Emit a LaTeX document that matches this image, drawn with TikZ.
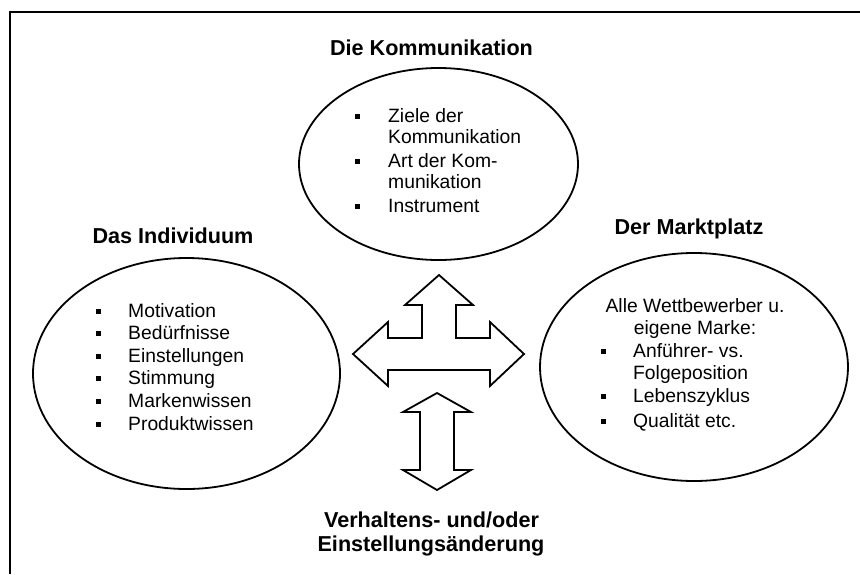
\documentclass[tikz,border=0pt]{standalone}
\usepackage{fontspec}
\setmainfont{Liberation Sans}
\usetikzlibrary{shapes.geometric}
\begin{document}
\begin{tikzpicture}[x=1pt,y=-1pt,
  title/.style={font=\bfseries\fontsize{21.6}{24}\selectfont, inner sep=0pt, anchor=base},
  item/.style={font=\fontsize{19.3}{22.6}\selectfont, inner sep=0pt, anchor=base west},
  centred/.style={font=\fontsize{19.3}{22.6}\selectfont, inner sep=0pt, anchor=base},
  bul/.style={fill=black, inner sep=0pt, minimum size=5pt},
  oval/.style={draw, ellipse, line width=1.8pt, inner sep=0pt},
  bigarrow/.style={draw, line width=1.8pt, line join=miter, fill=white}]

\useasboundingbox (0,0) rectangle (860,574);

% open frame: only the top and left edges
\coordinate (fbl) at (10,574);
\coordinate (ftl) at (10,12);
\coordinate (ftr) at (860,12);
\draw[line width=2.4pt] (fbl) -- (ftl) -- (ftr);

% the three ovals
\node[oval, minimum width=279pt, minimum height=192pt] (komm) at (438.5,164) {};
\node[oval, minimum width=307pt, minimum height=231pt] (indiv) at (186.5,373.5) {};
\node[oval, minimum width=308pt, minimum height=228pt] (markt) at (694,367) {};

% headings
\node[title] (tkomm) at (431.5,55) {Die Kommunikation};
\node[title] (tindiv) at (173,243) {Das Individuum};
\node[title] (tmarkt) at (689,234) {Der Marktplatz};
\node[title] (tchg1) at (431.5,527) {Verhaltens- und/oder};
\node[title] (tchg2) at (431,551) {Einstellungsänderung};

% communication items
\node[bul] (kb1) at (357,116) {};
\node[item] (k1) at (388,122) {Ziele der};
\node[item] (k2) at (388,143) {Kommunikation};
\node[bul] (kb2) at (357,161) {};
\node[item] (k3) at (388,167) {Art der Kom-};
\node[item] (k4) at (388,188) {munikation};
\node[bul] (kb3) at (357,206) {};
\node[item] (k5) at (388,212) {Instrument};

% individual items
\node[bul] (ib1) at (98,311) {};
\node[item] (i1) at (128,317) {Motivation};
\node[bul] (ib2) at (98,333) {};
\node[item] (i2) at (128,339) {Bedürfnisse};
\node[bul] (ib3) at (98,356) {};
\node[item] (i3) at (128,362) {Einstellungen};
\node[bul] (ib4) at (98,378) {};
\node[item] (i4) at (128,384) {Stimmung};
\node[bul] (ib5) at (98,401) {};
\node[item] (i5) at (128,407) {Markenwissen};
\node[bul] (ib6) at (98,424) {};
\node[item] (i6) at (128,430) {Produktwissen};

% market items
\node[centred] (m0) at (695,312) {Alle Wettbewerber u.};
\node[centred] (m00) at (695,334) {eigene Marke:};
\node[bul] (mb1) at (603,351) {};
\node[item] (m1) at (633,357) {Anführer- vs.};
\node[item] (m2) at (633,379) {Folgeposition};
\node[bul] (mb2) at (603,396) {};
\node[item] (m3) at (633,402) {Lebenszyklus};
\node[bul] (mb3) at (603,421) {};
\node[item] (m4) at (633,427) {Qualität etc.};

% three-headed block arrow (up, left, right)
\draw[bigarrow] (439,275) -- (473,305) -- (456,305) -- (456,338) -- (490,338)
  -- (490,322) -- (524,354) -- (490,386) -- (490,370) -- (388,370) -- (388,386)
  -- (353,354) -- (388,322) -- (388,338) -- (422,338) -- (422,305) -- (405,305) -- cycle;

% vertical double block arrow
\draw[bigarrow] (437,393) -- (471,412) -- (454,412) -- (454,470) -- (471,470)
  -- (437,490) -- (403,470) -- (420,470) -- (420,412) -- (403,412) -- cycle;

\end{tikzpicture}
\end{document}
